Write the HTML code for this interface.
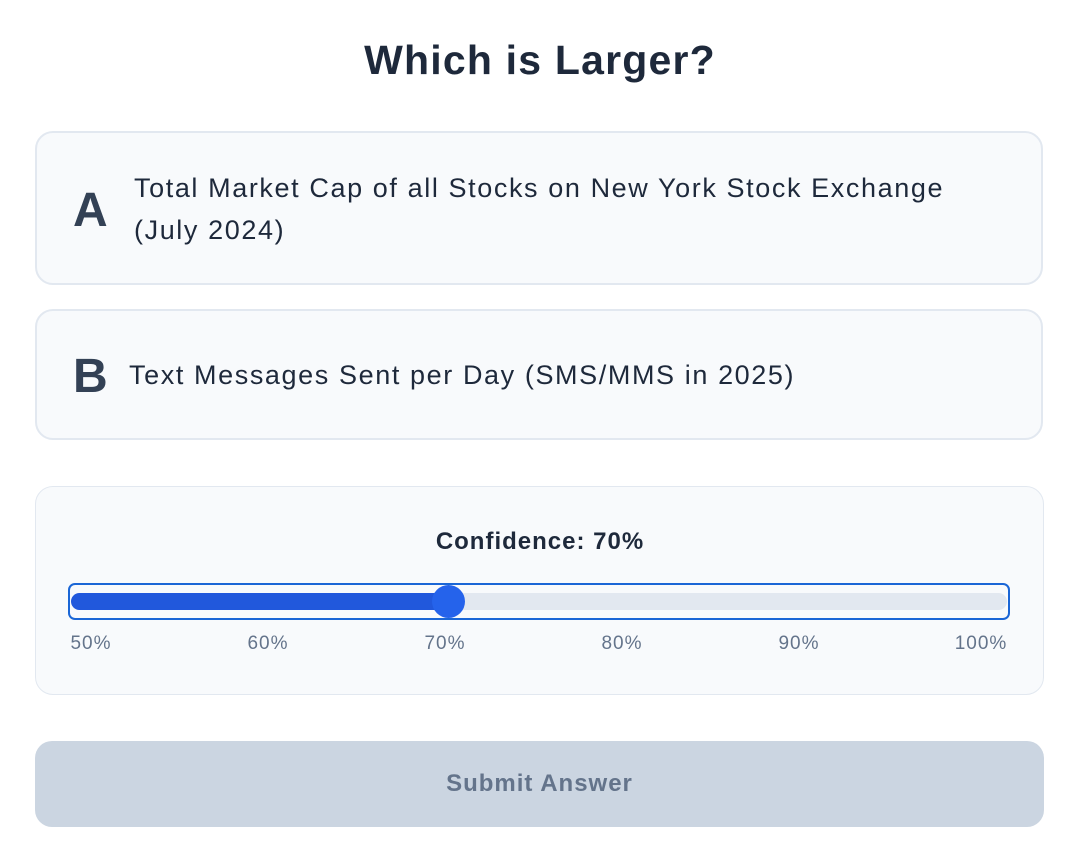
<!DOCTYPE html>
<html><head><style>
body{margin:0;width:1080px;height:841px;background:#fff;font-family:"Liberation Sans",sans-serif;color:#1e293b;position:relative;overflow:hidden}
.t{position:absolute;top:30px;left:0;width:1080px;text-align:center;font-size:41px;font-weight:bold;line-height:60px;letter-spacing:1.2px}
.card{position:absolute;left:35px;width:1004px;background:#f8fafc;border:2px solid #e2e8f0;border-radius:18px;box-sizing:content-box}
.L{position:absolute;left:36px;font-size:48px;font-weight:bold;color:#334155}
.tx{position:absolute;font-size:27px;line-height:42px;color:#1e293b;letter-spacing:1.6px;white-space:nowrap}
.sl{position:absolute;left:35px;top:486px;width:1007px;height:207px;border:1px solid #e2e8f0;border-radius:18px;background:#f8fafc}
.lab{position:absolute;top:633px;font-size:19px;color:#64748b;width:80px;text-align:center;letter-spacing:1px}
</style></head><body>
<div class="t">Which is Larger?</div>
<div class="card" style="top:131px;height:150px">
<div class="L" style="top:50px">A</div>
<div class="tx" style="left:97px;top:34px">Total Market Cap of all Stocks on New York Stock Exchange<br>(July 2024)</div>
</div>
<div class="card" style="top:309px;height:127px">
<div class="L" style="top:38px">B</div>
<div class="tx" style="left:92px;top:43px">Text Messages Sent per Day (SMS/MMS in 2025)</div>
</div>
<div class="sl"></div>
<div style="position:absolute;top:527px;left:0;width:1080px;text-align:center;font-size:24px;font-weight:bold;line-height:30px;letter-spacing:1px">Confidence: 70%</div>
<div style="position:absolute;left:68px;top:583px;width:938px;height:33px;border:2px solid #1a66d6;border-radius:7px"></div>
<div style="position:absolute;left:71px;top:593px;width:936px;height:17px;border-radius:9px;background:#e2e8f0"></div>
<div style="position:absolute;left:71px;top:593px;width:380px;height:17px;border-radius:9px;background:#2158dc"></div>
<div style="position:absolute;left:432px;top:585px;width:33px;height:33px;border-radius:50%;background:#2563eb"></div>
<div class="lab" style="left:51px">50%</div>
<div class="lab" style="left:228px">60%</div>
<div class="lab" style="left:405px">70%</div>
<div class="lab" style="left:582px">80%</div>
<div class="lab" style="left:759px">90%</div>
<div class="lab" style="left:941px">100%</div>
<div style="position:absolute;left:35px;top:741px;width:1009px;height:86px;border-radius:17px;background:#cbd5e1;color:#64748b;font-weight:bold;font-size:24px;line-height:86px;text-align:center;letter-spacing:1px">Submit Answer</div>
</body></html>
